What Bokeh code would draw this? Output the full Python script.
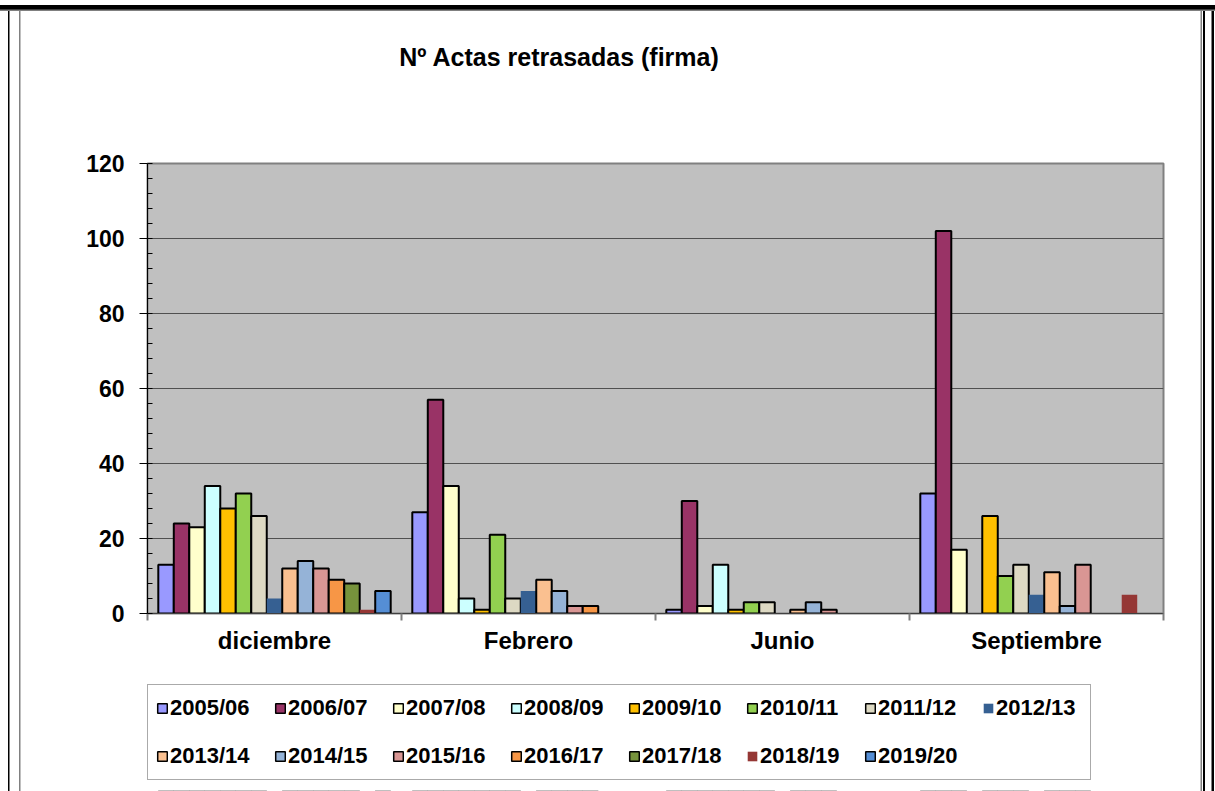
from bokeh.plotting import figure
from bokeh.layouts import column
from bokeh.models import (ColumnDataSource, Range1d, LinearAxis, Label,
                          FixedTicker, SingleIntervalTicker, Legend, LegendItem)
from bokeh.transform import dodge
from bokeh.embed import file_html
from bokeh.resources import INLINE

# ---------------- data ----------------
months = ["diciembre", "Febrero", "Junio", "Septiembre"]
seasons = ["2005/06", "2006/07", "2007/08", "2008/09", "2009/10", "2010/11", "2011/12",
           "2012/13", "2013/14", "2014/15", "2015/16", "2016/17", "2017/18", "2018/19", "2019/20"]

s2005_06 = [13, 27, 1, 32]
s2006_07 = [24, 57, 30, 102]
s2007_08 = [23, 34, 2, 17]
s2008_09 = [34, 4, 13, 0]
s2009_10 = [28, 1, 1, 26]
s2010_11 = [32, 21, 3, 10]
s2011_12 = [26, 4, 3, 13]
s2012_13 = [4, 6, 0, 5]
s2013_14 = [12, 9, 1, 11]
s2014_15 = [14, 6, 3, 2]
s2015_16 = [12, 2, 1, 13]
s2016_17 = [9, 2, 0, 0]
s2017_18 = [8, 0, 0, 0]
s2018_19 = [1, 0, 0, 5]
s2019_20 = [6, 0, 0, 0]

series = [s2005_06, s2006_07, s2007_08, s2008_09, s2009_10, s2010_11, s2011_12, s2012_13,
          s2013_14, s2014_15, s2015_16, s2016_17, s2017_18, s2018_19, s2019_20]

colors = ["#9999FF", "#993366", "#FFFFCC", "#CCFFFF", "#FFC000", "#92D050", "#DDD9C3",
          "#366092", "#FAC090", "#95B3D7", "#D99694", "#F79646", "#77933C", "#953735", "#558ED5"]
outlined = [True, True, True, True, True, True, True, False,
            True, True, True, True, True, False, True]

y_ticks_interval = 20
title_text = "Nº Actas retrasadas (firma)"

FONT = "Liberation Sans"
W = 1215

# category slot centres on a numeric axis (slot j spans j..j+1)
n = len(months)
centres = [j + 0.5 for j in range(n)]

# outer chart frame drawn with inset shadows on the layout element (first listed = on top)
frame_shadows = ", ".join([
    "inset 0 5px 0 0 white", "inset 0 9.5px 0 0 black", "inset 0 11px 0 0 #808080",
    "inset 8px 0 0 0 white", "inset 9.5px 0 0 0 black", "inset 19px 0 0 0 white",
    "inset 20.5px 0 0 0 #808080",
    "inset -1px 0 0 0 white", "inset -3.5px 0 0 0 black", "inset -10px 0 0 0 white",
    "inset -12px 0 0 0 black", "inset -13px 0 0 0 white", "inset -14.5px 0 0 0 #808080",
])


def blank_fig(h, xr=(0, 1), yr=(0, 1)):
    f = figure(width=W, height=h, x_range=Range1d(*xr), y_range=Range1d(*yr),
               output_backend="svg", toolbar_location=None,
               x_axis_location=None, y_axis_location=None, min_border=0,
               background_fill_alpha=0, border_fill_alpha=0, outline_line_color=None)
    for g in f.grid:
        g.visible = False
    return f


# NOTE: plot frames of the stacked figures are aligned (frame left edge at x=147),
# so screen positions below are measured from that edge.

# ---------------- title strip ----------------
p_title = blank_fig(100)
p_title.add_layout(Label(x=412, y=44, x_units="screen", y_units="screen", text=title_text,
                         text_align="center", text_baseline="middle", text_font=FONT,
                         text_font_style="bold", text_font_size="25px", text_color="black"))

# ---------------- chart ----------------
p_chart = figure(width=W, height=580,
                 x_range=Range1d(0, n), y_range=Range1d(0, 120),
                 output_backend="svg", toolbar_location=None, x_axis_location=None,
                 min_border_left=147, min_border_right=52, min_border_top=63, min_border_bottom=67,
                 background_fill_color="#C0C0C0", border_fill_alpha=0,
                 outline_line_color="#808080", outline_line_width=2)
for g in p_chart.xgrid:
    g.visible = False

bar_w = 0.061
sources = []
for i, (name, vals, col, ol) in enumerate(zip(seasons, series, colors, outlined)):
    pos = [c for c, v in zip(centres, vals) if v > 0]
    tops = [v for v in vals if v > 0]
    src = ColumnDataSource(dict(pos=pos, val=tops))
    sources.append(src)
    p_chart.vbar(x=dodge("pos", (i - 7) * bar_w), top="val", bottom=0,
                 width=bar_w, source=src, fill_color=col,
                 line_color="black" if ol else None, line_width=2)

ya = p_chart.yaxis[0]
ya.ticker = SingleIntervalTicker(interval=y_ticks_interval, num_minor_ticks=5)
ya.axis_line_color = "black"
ya.axis_line_width = 1
ya.major_tick_out = 8
ya.major_tick_in = 0
ya.major_tick_line_color = "black"
ya.minor_tick_in = 5
ya.minor_tick_out = 0
ya.minor_tick_line_color = "black"
ya.major_label_text_font = FONT
ya.major_label_text_font_style = "bold"
ya.major_label_text_font_size = "23px"
ya.major_label_text_color = "black"
ya.major_label_standoff = 15

p_chart.ygrid.grid_line_color = "#505050"
p_chart.ygrid.grid_line_width = 1

tick_axis = LinearAxis(ticker=FixedTicker(ticks=list(range(n + 1))),
                       major_label_text_font_size="0px", major_label_standoff=0,
                       major_tick_out=7, major_tick_in=0, minor_tick_out=0, minor_tick_in=0,
                       axis_line_color="#404040", axis_line_width=1,
                       major_tick_line_color="#808080", major_tick_line_width=2)
p_chart.add_layout(tick_axis, "below")
label_axis = LinearAxis(ticker=FixedTicker(ticks=centres),
                        major_label_overrides={c: m for c, m in zip(centres, months)},
                        major_tick_line_color=None, minor_tick_line_color=None,
                        major_tick_out=0, major_tick_in=0, axis_line_color=None,
                        major_label_text_font=FONT, major_label_text_font_style="bold",
                        major_label_text_font_size="24px", major_label_text_color="black",
                        major_label_standoff=6)
p_chart.add_layout(label_axis, "below")

# ---------------- legend strip ----------------
# legend renderers share the chart's data; this strip's y-range keeps the bars out of view
p_leg = blank_fig(111, xr=(0, n), yr=(150, 250))
items = []
for i, (name, src, col, ol) in enumerate(zip(seasons, sources, colors, outlined)):
    proxy = p_leg.vbar(x=dodge("pos", (i - 7) * bar_w), top="val", bottom=0,
                       width=bar_w, source=src, fill_color=col,
                       line_color="black" if ol else None, line_width=1.5)
    items.append(LegendItem(label=name, renderers=[proxy]))
legend = Legend(items=items, location=(0, 11), orientation="horizontal", ncols=8,
                glyph_width=12, glyph_height=12, label_standoff=2, label_width=86,
                label_height=30, spacing=18, padding=8, margin=0,
                border_line_color="#555555", border_line_width=1,
                background_fill_color="white", background_fill_alpha=1,
                label_text_font=FONT, label_text_font_style="bold",
                label_text_font_size="22px", label_text_color="black")
p_leg.add_layout(legend, "center")

p = column(p_title, p_chart, p_leg, spacing=0)
p.styles = {"background-color": "white", "box-shadow": frame_shadows}

open("out.html", "w").write(file_html(p, INLINE))
